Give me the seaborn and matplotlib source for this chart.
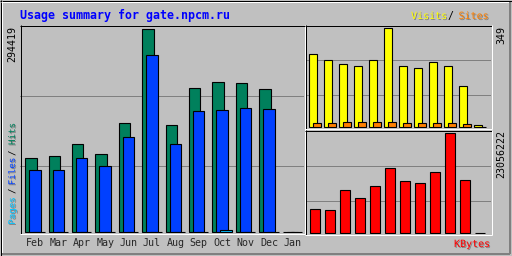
import numpy as np
import pandas as pd
import matplotlib
matplotlib.use("Agg")
import matplotlib.pyplot as plt
import matplotlib.patheffects as pe
from matplotlib.lines import Line2D
import seaborn as sns

# ---------------- data ----------------
months = ["Feb", "Mar", "Apr", "May", "Jun", "Jul", "Aug", "Sep", "Oct", "Nov", "Dec", "Jan"]
hits = [107600, 110500, 126500, 112000, 156900, 294419, 154000, 207700, 216800, 214900, 206200, 0]
files = [88800, 90200, 107600, 96000, 136600, 255500, 126500, 174300, 176200, 178700, 177200, 0]
pages = [300, 300, 300, 300, 300, 300, 300, 300, 3200, 300, 300, 0]
visits = [256, 235, 224, 214, 235, 349, 217, 207, 228, 214, 146, 7]
sites = [15, 15, 18, 18, 18, 18, 15, 15, 15, 15, 11, 1]
kbytes = [5410000, 5180000, 9880000, 8000000, 10820000, 15060000, 12000000, 11530000,
          14120000, 23056222, 12230000, 0]

title = "Usage summary for gate.npcm.ru"

# ---------------- style ----------------
BG = "#C0C0C0"
DK = "#808080"
C_HITS, C_FILES, C_PAGES = "#00805C", "#0040FF", "#00C0FF"
C_VISITS, C_SITES, C_KB = "#FFFF00", "#FF8000", "#FF0000"
MONO = "DejaVu Sans Mono"
LW = 0.8

sns.set_style("white")
plt.rcParams["font.family"] = [MONO]

W, H = 512, 256
fig = plt.figure(figsize=(W / 100, H / 100), dpi=100, facecolor=BG)


def rect(x0, y0, x1, y1):
    return [x0 / W, 1 - y1 / H, (x1 - x0) / W, (y1 - y0) / H]


def hline(y, x0, x1, c, lw=1):
    fig.add_artist(Line2D([x0 / W, x1 / W], [1 - (y + 0.5) / H] * 2, color=c,
                          lw=lw * 0.72, transform=fig.transFigure, solid_capstyle="butt"))


def vline(x, y0, y1, c, lw=1):
    fig.add_artist(Line2D([(x + 0.5) / W] * 2, [1 - y0 / H, 1 - y1 / H], color=c,
                          lw=lw * 0.72, transform=fig.transFigure, solid_capstyle="butt"))


def ftext(x, y, s, **kw):
    return fig.text(x / W, 1 - y / H, s, **kw)


shadow = [pe.withSimplePatchShadow(offset=(0.72, -0.72), shadow_rgbFace=DK, alpha=1.0)]

df = pd.DataFrame({"m": np.arange(12), "hits": hits, "files": files, "pages": pages,
                   "visits": visits, "sites": sites, "kbytes": kbytes})


def setup(ax, xlim, ylim, px_h, base_px):
    ax.set_facecolor(BG)
    for s in ax.spines.values():
        s.set_visible(False)
    ax.set_xlim(*xlim)
    lo = -ylim[1] * base_px / px_h
    ax.set_ylim(lo, ylim[1])
    for f in (0.32, 0.658):
        ax.axhline(lo + (ylim[1] - lo) * f, color=DK, lw=0.72, zorder=0)
    ax.set_yticks([])
    ax.set_xlabel("")
    ax.set_ylabel("")


def bars(ax, col, offset, width, color):
    d = df.assign(xx=df["m"] + offset)
    sns.barplot(data=d, x="xx", y=col, native_scale=True, orient="x", width=width,
                color=color, saturation=1, edgecolor="black", linewidth=LW,
                errorbar=None, ax=ax, zorder=2)


# ---------------- main panel ----------------
ax1 = fig.add_axes(rect(20, 25, 304, 233))
bw = 0.487
bars(ax1, "hits", 0.0, bw, C_HITS)
bars(ax1, "files", 0.171, bw, C_FILES)
bars(ax1, "pages", 0.342, bw, C_PAGES)
setup(ax1, (-0.47, 11.667), (0, 299500), 207, 1.2)
ax1.set_xticks(np.arange(12) + 0.171)
ax1.set_xticklabels(months, fontsize=7.2, family=MONO)
ax1.tick_params(axis="x", length=0, pad=3.6)

# ---------------- visits / sites ----------------
ax2 = fig.add_axes(rect(305, 25, 491, 128))
bars(ax2, "visits", 0.0, 0.49, C_VISITS)
bars(ax2, "sites", 0.267, 0.49, C_SITES)
setup(ax2, (-0.533, 11.867), (0, 360), 102, 1.0)
ax2.set_xticks([])

# ---------------- kbytes ----------------
ax3 = fig.add_axes(rect(305, 130, 491, 234))
bars(ax3, "kbytes", 0.0, 0.627, C_KB)
setup(ax3, (-0.667, 11.733), (0, 23750000), 102.5, 1.5)
ax3.set_xticks([])

# ---------------- frames ----------------
for (x0, y0, x1, y1) in [(20, 25, 304, 233), (305, 25, 491, 128), (305, 130, 491, 234)]:
    hline(y0, x0, x1 + 1, "black")
    vline(x0, y0, y1 + 1, "black")
    hline(y1, x0, x1 + 1, "white")
    vline(x1, y0, y1 + 1, "white")

# outer bevel
hline(0, 0, W, "black")
vline(0, 0, H, "black")
hline(255, 0, W, "black")
vline(511, 0, H, "black")
hline(1, 1, 510, "white")
vline(1, 1, 254, "white")
hline(253, 2, 510, DK, lw=2)
vline(509, 2, 254, DK, lw=2)

# ---------------- texts ----------------
ftext(20, 15.5, title, color="#0000FF", fontsize=8.4, fontweight="bold",
      family=MONO, ha="left", va="center")

ftext(411, 16, "Visits", color=C_VISITS, fontsize=7.2, family=MONO, ha="left",
      va="center", path_effects=shadow)
ftext(450.5, 16, "/", color="black", fontsize=7.2, family=MONO, ha="center", va="center")
ftext(458.5, 16, "Sites", color=C_SITES, fontsize=7.2, family=MONO, ha="left",
      va="center", path_effects=shadow)

ftext(490, 244, "KBytes", color=C_KB, fontsize=7.2, family=MONO, ha="right",
      va="center", path_effects=shadow)

ftext(12.7, 26.5, f"{max(hits)}", color="black", fontsize=7.2, family=MONO,
      rotation=90, ha="center", va="top")
ftext(501, 25.5, f"{max(visits)}", color="black", fontsize=7.2, family=MONO,
      rotation=90, ha="center", va="top")
ftext(501, 130.5, f"{max(kbytes)}", color="black", fontsize=7.2, family=MONO,
      rotation=90, ha="center", va="top")

for s, yc, c in [("Pages", 211, C_PAGES), ("/", 190.5, "black"), ("Files", 171.5, C_FILES),
                 ("/", 152.5, "black"), ("Hits", 134, C_HITS)]:
    ftext(12.5, yc, s, color=c, fontsize=6.6, family=MONO, rotation=90,
          ha="center", va="center", path_effects=shadow if c != "black" else None)

fig.savefig("out.png", dpi=100, facecolor=BG)
